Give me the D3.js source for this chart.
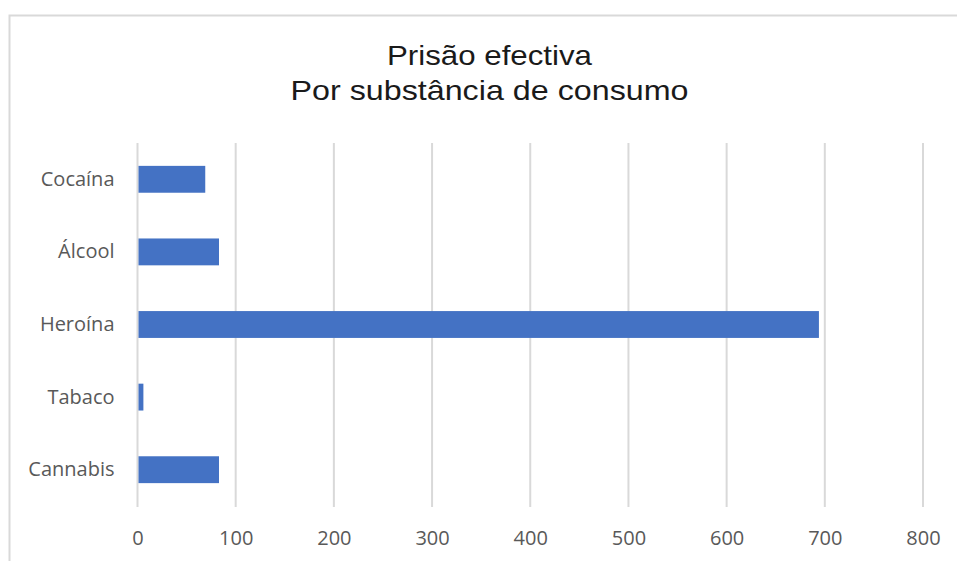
<!DOCTYPE html>
<html>
<head>
<meta charset="utf-8">
<script src="https://cdn.jsdelivr.net/npm/d3@7"></script>
<style>
  body { margin: 0; background: #fff; }
  svg text { font-family: "Open Sans", "Noto Sans", sans-serif; }
</style>
</head>
<body>
<svg id="chart"></svg>
<script>
// data (top to bottom)
const categories = ["Cocaína", "Álcool", "Heroína", "Tabaco", "Cannabis"];
const values = [69, 83, 694, 6, 83];
const xTicks = [0, 100, 200, 300, 400, 500, 600, 700, 800];
const titleLines = ["Prisão efectiva", "Por substância de consumo"];
const titleWidths = [205, 398];

const width = 957, height = 561;
const margin = {top: 143, right: 34, bottom: 55, left: 137.5};

let svg = d3.select("#chart")
    .attr("width", width)
    .attr("height", height);

// chart frame
svg.append("rect")
    .attr("x", 9.5)
    .attr("y", 15.5)
    .attr("width", width + 10)
    .attr("height", height + 10)
    .attr("fill", "#fff")
    .attr("stroke", "#d9d9d9")
    .attr("stroke-width", 2);

svg.selectAll(".title")
    .data(titleLines)
    .enter()
    .append("text")
    .classed("title", true)
    .attr("x", (d, i) => 489.5 - titleWidths[i] / 2)
    .attr("y", (d, i) => 65 + i * 35)
    .attr("font-size", "28px")
    .attr("fill", "#1a1a1a")
    .attr("textLength", (d, i) => titleWidths[i])
    .attr("lengthAdjust", "spacingAndGlyphs")
    .style("font-family", "'Liberation Sans', Arial, sans-serif")
    .text(d => d);

let x = d3.scaleLinear()
    .domain([0, 800])
    .range([margin.left, width - margin.right]);

let y = d3.scaleBand()
    .domain(categories)
    .range([margin.top, height - margin.bottom])
    .paddingInner(0.63)
    .paddingOuter(0.315);

// vertical gridlines
svg.append("g")
    .selectAll("line")
    .data(xTicks)
    .enter()
    .append("line")
    .attr("x1", d => x(d))
    .attr("x2", d => x(d))
    .attr("y1", margin.top)
    .attr("y2", height - margin.bottom + 1)
    .attr("stroke", "#d9d9d9")
    .attr("stroke-width", 2);

// x axis labels
let xAxis = d3.axisBottom(x)
    .tickValues(xTicks)
    .tickSize(0)
    .tickPadding(0);

svg.append("g")
    .attr("transform", `translate(0, ${height - margin.bottom + 25})`)
    .call(xAxis)
    .call(g => g.select(".domain").remove())
    .selectAll("text")
    .attr("font-size", "20px")
    .attr("fill", "#595959");

// y axis labels
let yAxis = d3.axisLeft(y)
    .tickSize(0)
    .tickPadding(23);

svg.append("g")
    .attr("transform", `translate(${margin.left}, 0)`)
    .call(yAxis)
    .call(g => g.select(".domain").remove())
    .selectAll("text")
    .attr("font-size", "20px")
    .attr("fill", "#595959");

// bars
svg.selectAll(".bar")
    .data(categories)
    .enter()
    .append("rect")
    .classed("bar", true)
    .attr("x", x(0) + 1)
    .attr("y", d => y(d))
    .attr("width", (d, i) => x(values[i]) - x(0) - 1)
    .attr("height", y.bandwidth())
    .attr("fill", "#4472c4");
</script>
</body>
</html>
